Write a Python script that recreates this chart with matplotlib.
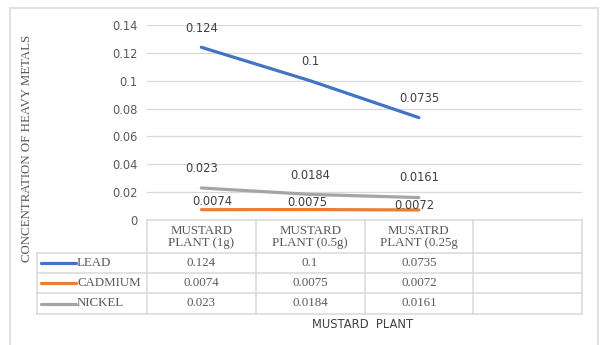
import matplotlib
matplotlib.use("Agg")
import matplotlib.pyplot as plt
from matplotlib.lines import Line2D
from matplotlib.patches import Rectangle

# ---- data ----
categories = ["MUSTARD\nPLANT (1g)", "MUSTARD\nPLANT (0.5g)", "MUSATRD\nPLANT (0.25g", ""]
series_names = ["LEAD", "CADMIUM", "NICKEL"]
lead = [0.124, 0.1, 0.0735]
cadmium = [0.0074, 0.0075, 0.0072]
nickel = [0.023, 0.0184, 0.0161]
table_text = {
    "LEAD": ["0.124", "0.1", "0.0735"],
    "CADMIUM": ["0.0074", "0.0075", "0.0072"],
    "NICKEL": ["0.023", "0.0184", "0.0161"],
}
y_ticks = [0, 0.02, 0.04, 0.06, 0.08, 0.1, 0.12, 0.14]
y_tick_labels = ["0", "0.02", "0.04", "0.06", "0.08", "0.1", "0.12", "0.14"]

colors = {"LEAD": "#4472C4", "CADMIUM": "#ED7D31", "NICKEL": "#A5A5A5"}
values = {"LEAD": lead, "CADMIUM": cadmium, "NICKEL": nickel}
# label offsets in pixels (dx, dy up) for each point
label_offsets = {
    "LEAD": [(0, 19), (0, 19), (0, 19)],
    "CADMIUM": [(11, 8), (-3, 7), (-5, 4)],
    "NICKEL": [(0, 19), (0, 19), (0, 20)],
}

W, H = 602, 345
fig = plt.figure(figsize=(W / 100, H / 100), dpi=100)
fig.patch.set_facecolor("white")

def fx(x):
    return x / W

def fy(y):
    return 1 - y / H

grid_c = "#D9D9D9"
text_c = "#595959"
serif = ["Liberation Serif", "DejaVu Serif"]
sans = ["DejaVu Sans"]

# plot area
left, right, top, bottom = 147, 582, 25, 220
ax = fig.add_axes([fx(left), fy(bottom), fx(right - left), (bottom - top) / H])
ax.set_xlim(-0.5, len(categories) - 0.5)
ax.set_ylim(0, 0.14)
ax.set_yticks(y_ticks)
ax.set_yticklabels(y_tick_labels, fontsize=8.3, color=text_c, family=sans)
ax.set_xticks([])
ax.tick_params(axis="y", length=0, pad=7)
for s in ax.spines.values():
    s.set_visible(False)
ax.grid(axis="y", color=grid_c, linewidth=0.9)
ax.set_axisbelow(True)

xs = list(range(len(lead)))
px_to_pt = 72 / fig.dpi
for name in series_names:
    ax.plot(xs, values[name], color=colors[name], linewidth=2.3,
            solid_capstyle="round", zorder=3)
    for x, v, lab, (dx, dy) in zip(xs, values[name], table_text[name], label_offsets[name]):
        ax.annotate(lab, (x, v), xytext=(dx * px_to_pt, dy * px_to_pt),
                    textcoords="offset points", ha="center", va="center",
                    fontsize=8.3, color="#404040", family=sans, zorder=4)

# ---- data table below the plot ----
fig.canvas.draw()
col_edges = [ax.transData.transform((c - 0.5, 0))[0] for c in range(len(categories) + 1)]
col_centers = [ax.transData.transform((c, 0))[0] for c in range(len(categories))]
row_edges = [220, 253, 273, 293, 314]
legend_left = 37

def hline(y, x0, x1):
    fig.add_artist(Line2D([fx(x0), fx(x1)], [fy(y), fy(y)], color=grid_c, linewidth=1.1))

def vline(x, y0, y1):
    fig.add_artist(Line2D([fx(x), fx(x)], [fy(y0), fy(y1)], color=grid_c, linewidth=1.1))

hline(row_edges[0], col_edges[0], col_edges[-1])
for y in row_edges[1:]:
    hline(y, legend_left, col_edges[-1])
for x in col_edges:
    vline(x, row_edges[0], row_edges[-1])
vline(legend_left, row_edges[1], row_edges[-1])

hdr_y = (row_edges[0] + row_edges[1]) / 2 + 0.5
for cx, cat in zip(col_centers, categories):
    if cat:
        fig.text(fx(cx), fy(hdr_y), cat, ha="center", va="center", fontsize=9.3,
                 color=text_c, family=serif, linespacing=1.05)

for i, name in enumerate(series_names):
    yc = (row_edges[i + 1] + row_edges[i + 2]) / 2
    fig.add_artist(Line2D([fx(41), fx(76)], [fy(yc), fy(yc)], color=colors[name],
                          linewidth=2.3, solid_capstyle="round"))
    fig.text(fx(77), fy(yc), name, ha="left", va="center", fontsize=9.3,
             color=text_c, family=serif)
    for cx, lab in zip(col_centers, table_text[name]):
        fig.text(fx(cx), fy(yc), lab, ha="center", va="center", fontsize=9.3,
                 color=text_c, family=serif)

# axis titles
fig.text(fx(363), fy(324), "MUSTARD  PLANT", ha="center", va="center",
         fontsize=8.3, color="#404040", family=sans)
fig.text(fx(27), fy(148), "CONCENTRATION OF HEAVY METALS", ha="center", va="center",
         rotation=90, fontsize=9.3, color=text_c, family=serif)

# chart frame
fig.add_artist(Rectangle((fx(10), fy(360)), fx(588), (360 - 8) / H, fill=False,
                         edgecolor=grid_c, linewidth=1.1))

fig.savefig("out.png", dpi=100)
